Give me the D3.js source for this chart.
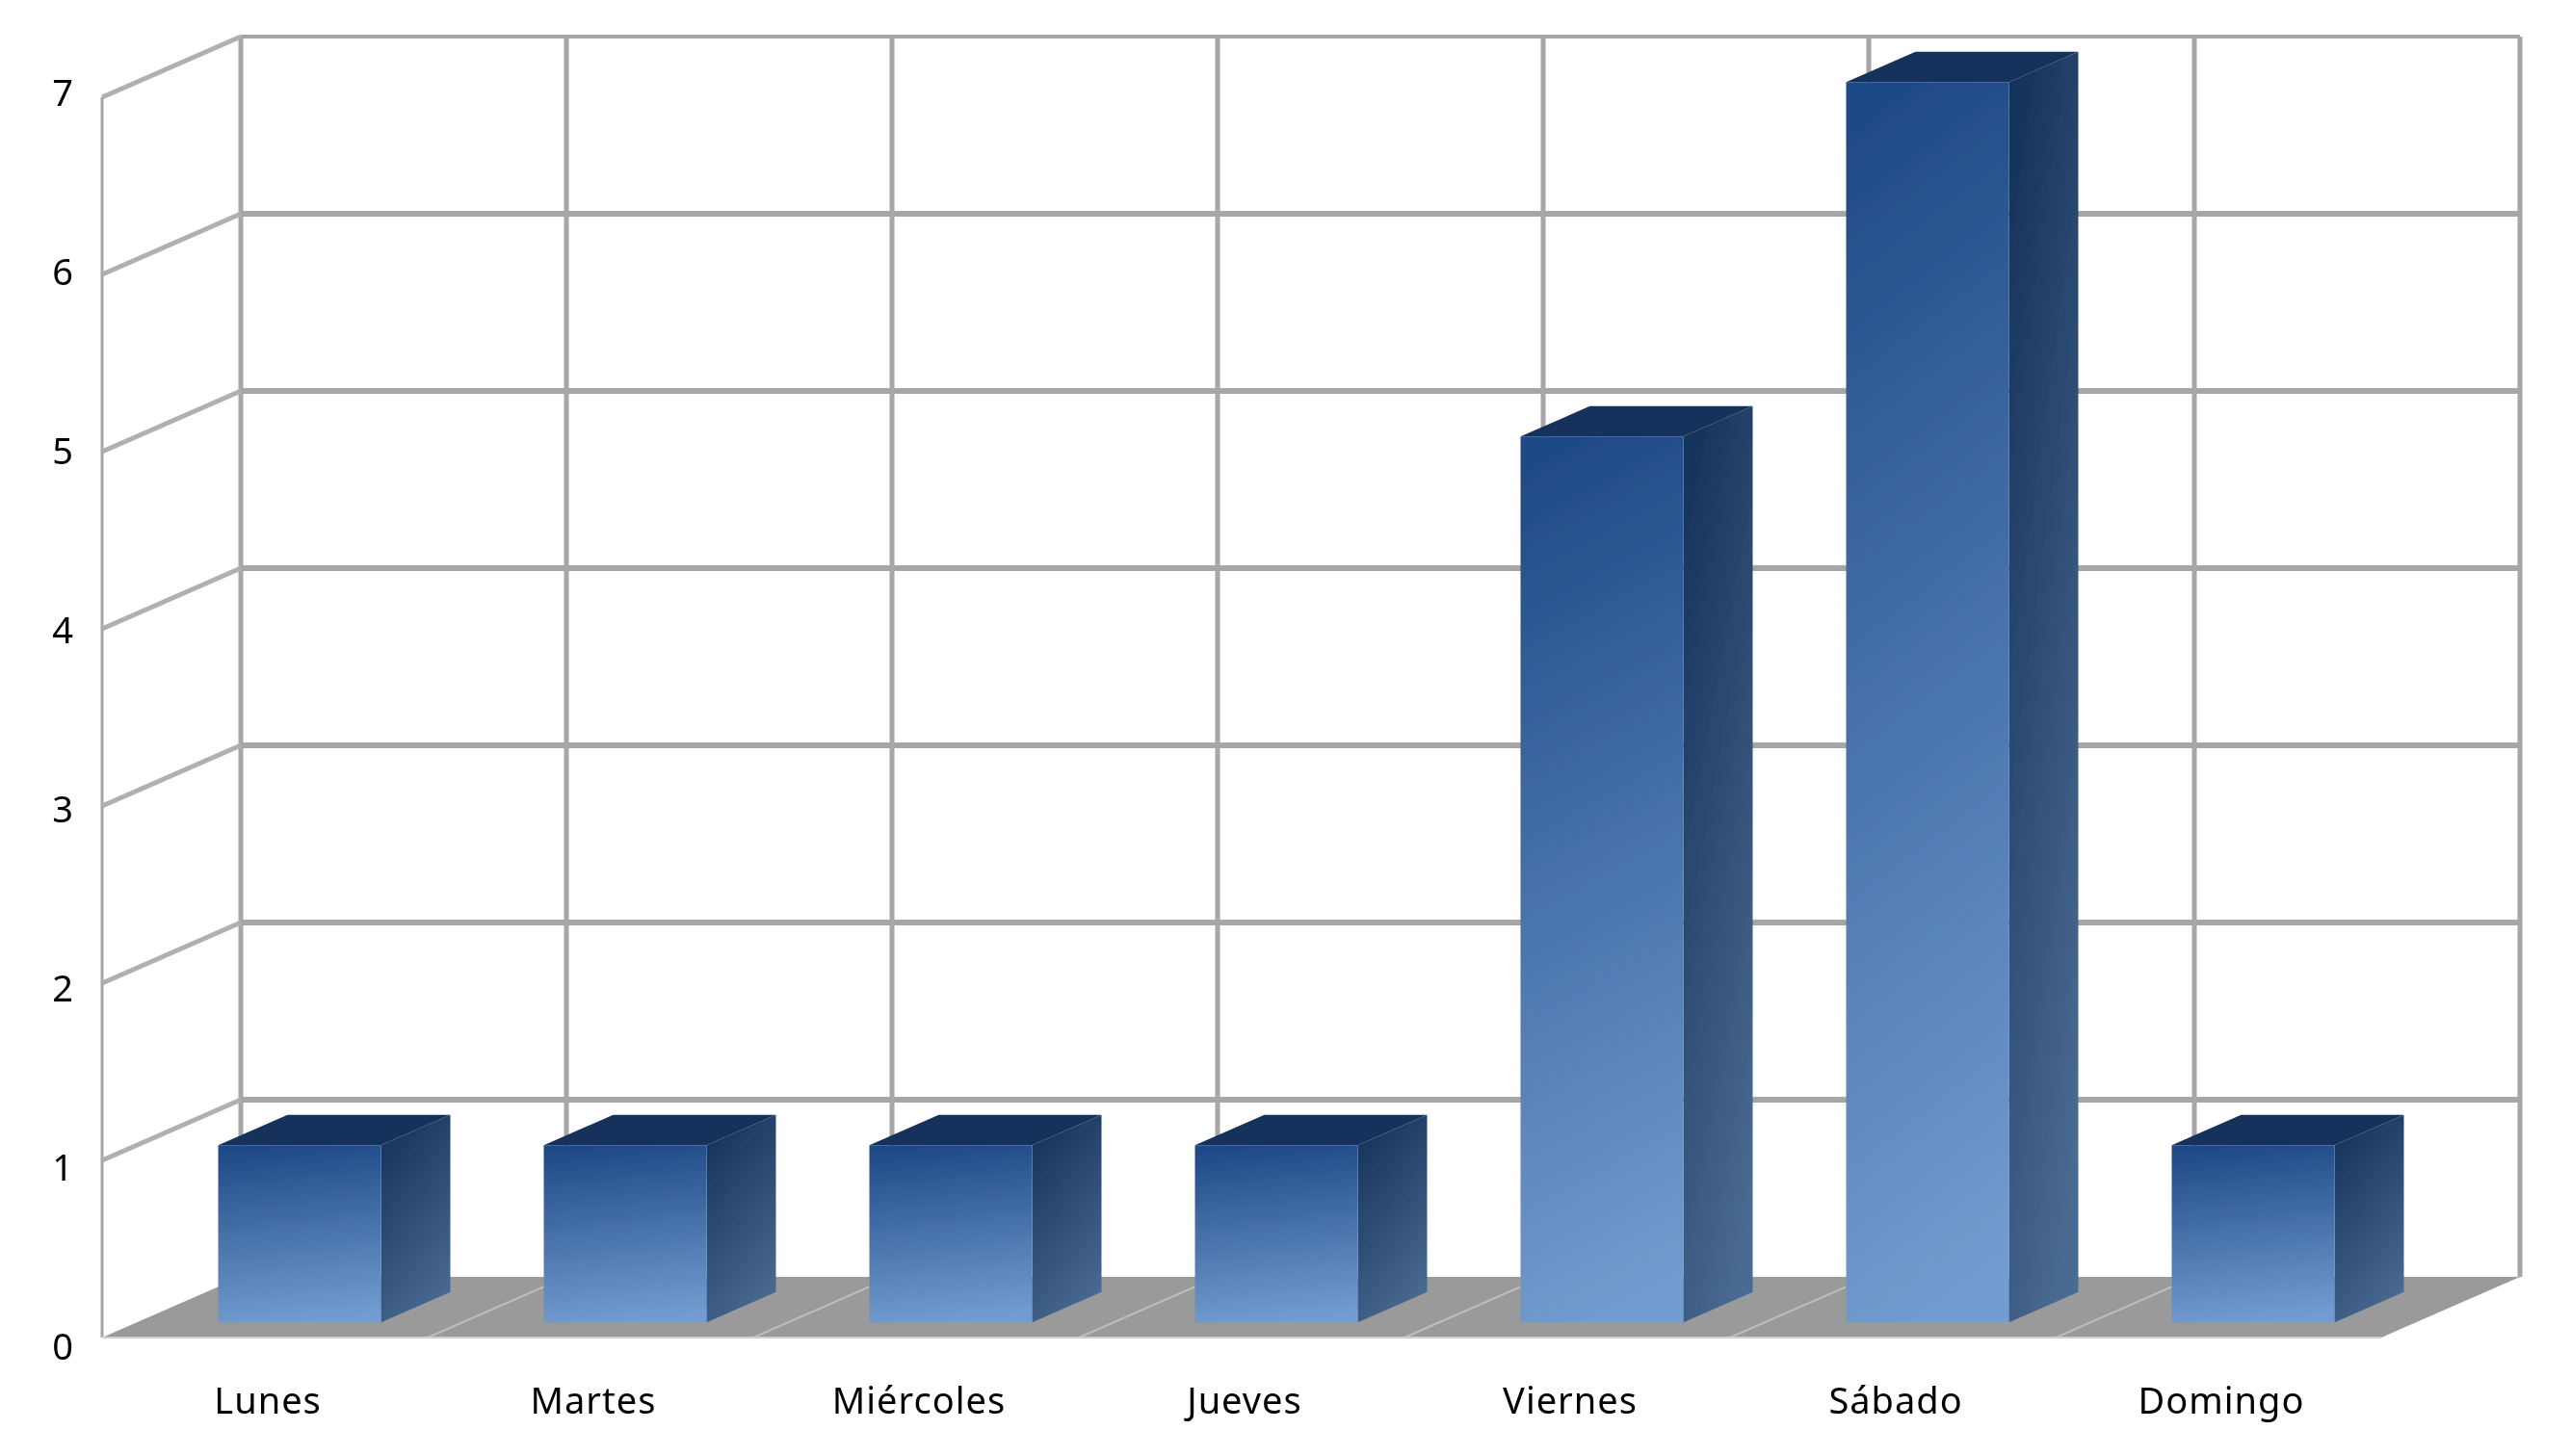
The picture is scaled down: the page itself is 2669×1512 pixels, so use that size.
<!DOCTYPE html>
<html>
<head>
<meta charset="utf-8">
<script src="https://cdnjs.cloudflare.com/ajax/libs/d3/7.8.5/d3.min.js"></script>
<style>
html, body { margin: 0; padding: 0; background: #fff; }
svg { display: block; }
</style>
</head>
<body>
<div id="chart"></div>
<script>
var days = ["Lunes", "Martes", "Miércoles", "Jueves", "Viernes", "Sábado", "Domingo"];
var values = [1, 1, 1, 1, 5, 7, 1];
var yTicks = [0, 1, 2, 3, 4, 5, 6, 7];

var width = 2669, height = 1512;
var depthX = 144, depthY = 63;
var left = 106, right = 2472;

var x = d3.scaleBand().domain(days).range([left, right]).paddingInner(0.5).paddingOuter(0.25);
var band = d3.scaleBand().domain(days).range([left, right]);
var y = d3.scaleLinear().domain([0, 7]).range([1389, 101]);
var labelY = d3.scaleLinear().domain([0, 7]).range([1399, 97]);

// point on the chart box, t is how far back it sits (0 front, 1 back)
function px(xv, t) { return xv + depthX * t; }
function py(v, t) { return y(v) - depthY * t; }
function poly(pts) { return pts.map(function(p){ return p.join(","); }).join(" "); }

var root = d3.select("#chart").append("svg")
	.attr("width", width)
	.attr("height", height);

var defs = root.append("defs");
function gradient(id, x1, y1, x2, y2, from, to) {
	var g = defs.append("linearGradient").attr("id", id)
		.attr("x1", x1).attr("y1", y1).attr("x2", x2).attr("y2", y2);
	g.append("stop").attr("offset", "0%").attr("stop-color", from);
	g.append("stop").attr("offset", "100%").attr("stop-color", to);
}
gradient("front", 0.45, 0, 0.55, 1, "#1f4a87", "#739dd0");
gradient("side", 0.3, 0, 0.7, 1, "#18345c", "#4a6b92");

// the reference is a soft upscaled picture
defs.append("filter").attr("id", "soft")
	.attr("filterUnits", "userSpaceOnUse")
	.attr("x", 0).attr("y", 0).attr("width", width).attr("height", height)
	.append("feGaussianBlur").attr("stdDeviation", 0.7);

var svg = root.append("g").attr("filter", "url(#soft)");

var gridColor = "#a6a6a6";

// back wall
svg.selectAll("line.back-h").data(yTicks.slice(1)).enter().append("line")
	.attr("class", "back-h")
	.attr("x1", px(left, 1))
	.attr("x2", px(right, 1))
	.attr("y1", function(d){ return py(d, 1); })
	.attr("y2", function(d){ return py(d, 1); })
	.attr("stroke", gridColor)
	.attr("stroke-width", function(d){ return d === 7 ? 4 : 6; });

var edges = d3.range(days.length + 1).map(function(i){ return left + band.step() * i; });
svg.selectAll("line.back-v").data(edges).enter().append("line")
	.attr("class", "back-v")
	.attr("x1", function(d){ return px(d, 1); })
	.attr("x2", function(d){ return px(d, 1); })
	.attr("y1", py(7, 1))
	.attr("y2", py(0, 1))
	.attr("stroke", gridColor)
	.attr("stroke-width", 5);

// left wall
svg.append("line")
	.attr("x1", left).attr("x2", left)
	.attr("y1", py(7, 0)).attr("y2", py(0, 0))
	.attr("stroke", gridColor)
	.attr("stroke-width", 3);

svg.selectAll("line.side").data(yTicks.slice(1)).enter().append("line")
	.attr("class", "side")
	.attr("x1", left)
	.attr("x2", px(left, 1))
	.attr("y1", function(d){ return py(d, 0); })
	.attr("y2", function(d){ return py(d, 1); })
	.attr("stroke", "#b0b0b0")
	.attr("stroke-width", 5);

// floor
svg.append("polygon")
	.attr("points", poly([[left, py(0, 0)], [right, py(0, 0)], [px(right, 1), py(0, 1)], [px(left, 1), py(0, 1)]]))
	.attr("fill", "#9a9a9a");

svg.selectAll("line.floor").data(edges.slice(1, -1)).enter().append("line")
	.attr("class", "floor")
	.attr("x1", function(d){ return d; })
	.attr("x2", function(d){ return px(d, 1); })
	.attr("y1", py(0, 0))
	.attr("y2", py(0, 1))
	.attr("stroke", "#bdbdbd")
	.attr("stroke-width", 2);

svg.append("line")
	.attr("x1", left).attr("x2", right)
	.attr("y1", py(0, 0)).attr("y2", py(0, 0))
	.attr("stroke", "#d0d0d0")
	.attr("stroke-width", 2);

// bars
var bars = svg.selectAll("g.bar")
	.data(days.map(function(d, i){ return {day: d, value: values[i]}; }))
	.enter().append("g")
	.attr("class", "bar");

bars.append("polygon")
	.attr("points", function(d){
		var l = x(d.day), r = l + x.bandwidth();
		return poly([[px(l, .25), py(d.value, .25)], [px(r, .25), py(d.value, .25)],
			[px(r, .75), py(d.value, .75)], [px(l, .75), py(d.value, .75)]]);
	})
	.attr("fill", "#17325b");

bars.append("polygon")
	.attr("points", function(d){
		var r = x(d.day) + x.bandwidth();
		return poly([[px(r, .25), py(d.value, .25)], [px(r, .75), py(d.value, .75)],
			[px(r, .75), py(0, .75)], [px(r, .25), py(0, .25)]]);
	})
	.attr("fill", "url(#side)");

bars.append("rect")
	.attr("x", function(d){ return px(x(d.day), .25); })
	.attr("y", function(d){ return py(d.value, .25); })
	.attr("width", x.bandwidth())
	.attr("height", function(d){ return y(0) - y(d.value); })
	.attr("fill", "url(#front)");

// axis labels
var yAxis = svg.append("g")
	.attr("transform", "translate(76,0)")
	.call(d3.axisLeft(labelY).tickValues(yTicks).tickFormat(d3.format("d")).tickSize(0).tickPadding(0));
yAxis.select(".domain").remove();

var xAxis = svg.append("g")
	.attr("transform", "translate(3,1441)")
	.call(d3.axisBottom(band).tickSize(0).tickPadding(0));
xAxis.select(".domain").remove();
svg.selectAll("g.tick text")
	.attr("fill", "#000")
	.style("font-size", "38px")
	.style("font-family", '"Noto Sans", sans-serif');
xAxis.selectAll("text").style("letter-spacing", "1px");
</script>
</body>
</html>
